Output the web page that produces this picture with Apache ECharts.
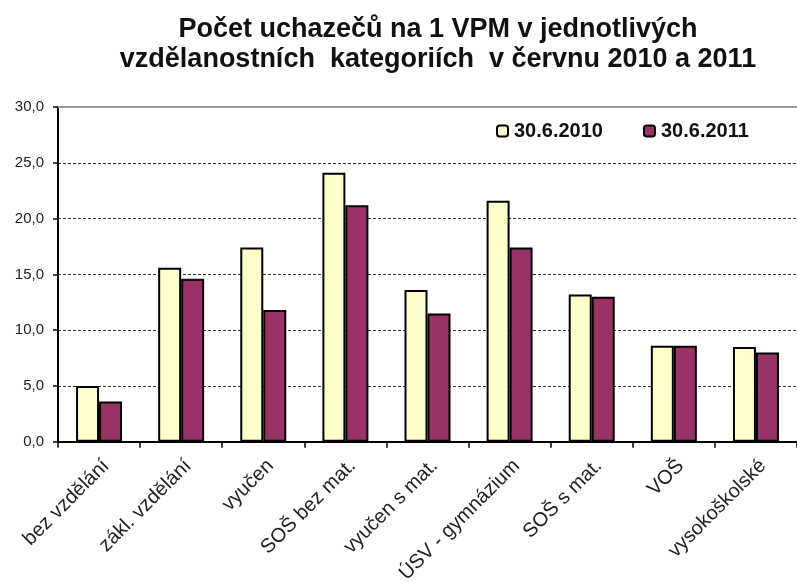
<!DOCTYPE html>
<html>
<head>
<meta charset="utf-8">
<script src="https://cdn.jsdelivr.net/npm/echarts@6/dist/echarts.min.js"></script>
<style>
html,body{margin:0;padding:0;background:#fff;}
#chart{width:797px;height:586px;}
</style>
</head>
<body>
<div id="chart"></div>
<script>
var categories = ['bez vzdělání', 'zákl. vzdělání', 'vyučen', 'SOŠ bez mat.', 'vyučen s mat.', 'ÚSV - gymnázium', 'SOŠ s mat.', 'VOŠ', 'vysokoškolské'];
var values2010 = [5.0, 15.6, 17.4, 24.1, 13.6, 21.6, 13.2, 8.6, 8.5];
var values2011 = [3.6, 14.6, 11.8, 21.2, 11.5, 17.4, 13.0, 8.6, 8.0];
var seriesNames = ['30.6.2010', '30.6.2011'];
var titleLines = ['Počet uchazečů na 1 VPM v jednotlivých', 'vzdělanostních  kategoriích  v červnu 2010 a 2011'];

var chart = echarts.init(document.getElementById('chart'), null, {renderer: 'canvas'});
var font = 'Liberation Sans, Arial, sans-serif';
chart.setOption({
  animation: false,
  backgroundColor: '#ffffff',
  title: {
    text: titleLines.join('\n'),
    left: 438,
    top: 15,
    textAlign: 'center',
    padding: 0,
    textStyle: {fontFamily: font, fontSize: 27, fontWeight: 'bold', color: '#111', lineHeight: 30}
  },
  legend: {
    data: seriesNames,
    left: 496,
    top: 121,
    padding: 0,
    itemWidth: 11,
    itemHeight: 11,
    itemGap: 40,
    textStyle: {fontFamily: font, fontSize: 20, fontWeight: 'bold', color: '#111', padding: [0, 0, 0, 1]}
  },
  grid: {left: 58, right: -11, top: 107, bottom: 143, containLabel: false},
  xAxis: [{
    type: 'category',
    data: categories,
    axisLine: {lineStyle: {color: '#000', width: 2}},
    axisTick: {show: true, length: 6, lineStyle: {color: '#000', width: 1.5}},
    axisLabel: {rotate: 45, fontFamily: font, fontSize: 20, color: '#222', margin: 14, interval: 0,
      align: 'right', verticalAlign: 'top'}
  }, {
    type: 'category',
    data: categories,
    position: 'top',
    axisLine: {lineStyle: {color: '#999', width: 2}},
    axisTick: {show: false},
    axisLabel: {show: false}
  }],
  yAxis: {
    type: 'value',
    min: 0,
    max: 30,
    interval: 5,
    axisLine: {show: true, lineStyle: {color: '#000', width: 2}},
    axisTick: {show: true, length: 5, lineStyle: {color: '#000', width: 1.5}},
    axisLabel: {fontFamily: font, fontSize: 15, color: '#222', margin: 14,
      formatter: function (v) { return v.toFixed(1).replace('.', ','); }},
    splitLine: {show: true, lineStyle: {color: '#333', width: 1, type: [3, 2]}}
  },
  series: [{
    name: seriesNames[0],
    type: 'bar',
    data: values2010,
    barWidth: 23,
    barGap: '0%',
    itemStyle: {color: '#FFFFCC', borderColor: '#000', borderWidth: 2}
  }, {
    name: seriesNames[1],
    type: 'bar',
    data: values2011,
    barWidth: 23,
    barGap: '0%',
    itemStyle: {color: '#993366', borderColor: '#000', borderWidth: 2}
  }]
});
</script>
</body>
</html>
